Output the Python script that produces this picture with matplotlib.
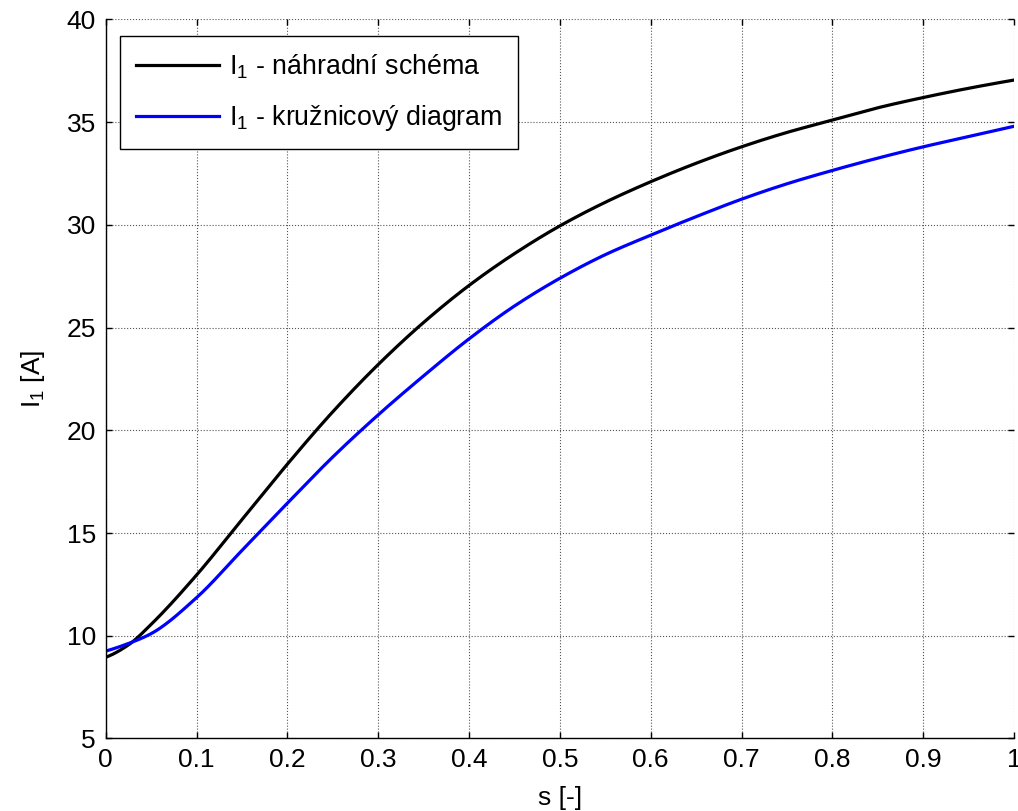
import numpy as np
import matplotlib
matplotlib.use("Agg")
import matplotlib.pyplot as plt

plt.rcParams['font.family'] = ['Liberation Sans', 'DejaVu Sans']
plt.rcParams['mathtext.fontset'] = 'custom'
plt.rcParams['mathtext.rm'] = 'Liberation Sans'
plt.rcParams['mathtext.it'] = 'Liberation Sans'
plt.rcParams['mathtext.default'] = 'regular'

s = [0.0, 0.025, 0.05, 0.1, 0.15, 0.2, 0.25, 0.3, 0.35, 0.4, 0.45, 0.5,
     0.55, 0.6, 0.65, 0.7, 0.75, 0.8, 0.85, 0.9, 0.95, 1.0]
i1_nahradni = [8.95, 9.55, 10.55, 12.95, 15.65, 18.35, 20.9, 23.2, 25.25, 27.05, 28.6, 29.95,
               31.1, 32.1, 33.0, 33.8, 34.5, 35.1, 35.7, 36.2, 36.65, 37.05]
i1_kruznicovy = [9.25, 9.62, 10.1, 11.85, 14.15, 16.45, 18.7, 20.75, 22.65, 24.45, 26.05, 27.4,
                 28.55, 29.5, 30.4, 31.25, 32.0, 32.65, 33.25, 33.8, 34.3, 34.8]

labels = [r'I$_1$ - náhradní schéma', r'I$_1$ - kružnicový diagram']
xticks = [0, 0.1, 0.2, 0.3, 0.4, 0.5, 0.6, 0.7, 0.8, 0.9, 1]
xticklabels = ['0', '0.1', '0.2', '0.3', '0.4', '0.5', '0.6', '0.7', '0.8', '0.9', '1']
yticks = [5, 10, 15, 20, 25, 30, 35, 40]


def pchip(x, y, n=500):
    """Monotone cubic interpolation through the read points (drawing only)."""
    x = np.asarray(x, float); y = np.asarray(y, float)
    h = np.diff(x); d = np.diff(y) / h
    m = np.zeros_like(y)
    for k in range(1, len(x) - 1):
        if d[k-1] * d[k] > 0:
            w1 = 2*h[k] + h[k-1]; w2 = h[k] + 2*h[k-1]
            m[k] = (w1 + w2) / (w1 / d[k-1] + w2 / d[k])
    m[0] = ((2*h[0] + h[1])*d[0] - h[0]*d[1]) / (h[0] + h[1])
    m[-1] = ((2*h[-1] + h[-2])*d[-1] - h[-1]*d[-2]) / (h[-1] + h[-2])
    xs = np.linspace(x[0], x[-1], n)
    i = np.clip(np.searchsorted(x, xs) - 1, 0, len(x) - 2)
    t = (xs - x[i]) / h[i]
    h00 = 2*t**3 - 3*t**2 + 1; h10 = t**3 - 2*t**2 + t
    h01 = -2*t**3 + 3*t**2; h11 = t**3 - t**2
    return xs, h00*y[i] + h10*h[i]*m[i] + h01*y[i+1] + h11*h[i]*m[i+1]


fig = plt.figure(figsize=(10.18, 8.11), dpi=100)
ax = fig.add_axes([0.1038, 0.0895, 0.9961 - 0.1038, 0.976 - 0.0895])

xs, ys = pchip(s, i1_nahradni)
ax.plot(xs, ys, color='black', lw=2.3, label=labels[0])
xs, ys = pchip(s, i1_kruznicovy)
ax.plot(xs, ys, color=(0, 0, 1), lw=2.3, label=labels[1])

ax.set_xlim(0, 1)
ax.set_ylim(5, 40)
ax.set_xticks(xticks)
ax.set_xticklabels(xticklabels)
ax.set_yticks(yticks)
ax.tick_params(direction='in', length=4, width=1, labelsize=19, top=True, right=True,
               pad=7)
ax.grid(True, linestyle=':', color='#555555', lw=0.8)
for side in ['top', 'right']:
    ax.spines[side].set_visible(False)
for side in ['left', 'bottom']:
    ax.spines[side].set_linewidth(1.0)

ax.set_xlabel('s [-]', fontsize=19, labelpad=10)
ax.set_ylabel(r'I$_1$ [A]', fontsize=19, labelpad=14)

leg = ax.legend(loc='upper left', bbox_to_anchor=(120/1018, 1 - 36/811),
                bbox_transform=fig.transFigure, borderaxespad=0, fontsize=19.3,
                handlelength=3.1, handletextpad=0.35, labelspacing=0.85,
                borderpad=0.6, fancybox=False, framealpha=1, edgecolor='black')
leg.get_frame().set_linewidth(1.0)

fig.savefig('out.png', dpi=100)
